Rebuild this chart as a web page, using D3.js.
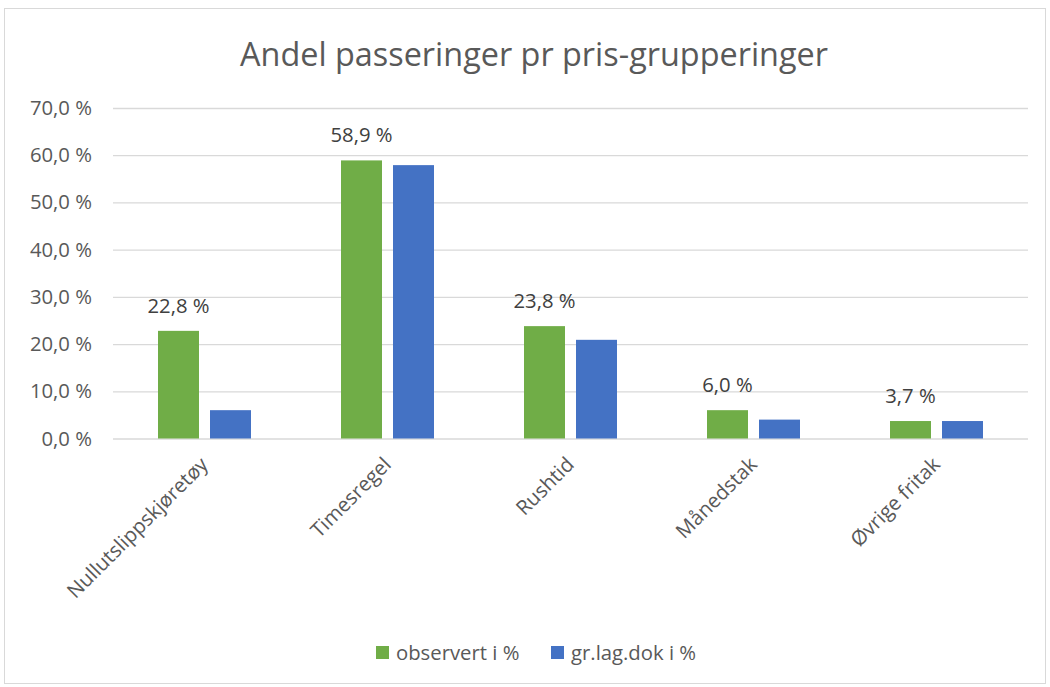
<!DOCTYPE html>
<html><head><meta charset="utf-8">
<script src="https://cdn.jsdelivr.net/npm/d3@7"></script>
<style>body{margin:0;background:#fff;} text{font-family:"Open Sans", sans-serif;}</style>
</head><body>
<svg id="c" width="1050" height="687"></svg>
<script>
const categories = ["Nullutslippskjøretøy","Timesregel","Rushtid","Månedstak","Øvrige fritak"];
const observert = [22.8, 58.9, 23.8, 6.0, 3.7];
const grlag = [6.0, 57.9, 20.9, 4.0, 3.7];
const seriesNames = ["observert i %","gr.lag.dok i %"];
const yTicks = [0,10,20,30,40,50,60,70];
const colors = ["#70ad47","#4472c4"];

const svg = d3.select("#c");
svg.append("rect").attr("x",4.5).attr("y",8.5).attr("width",1041).attr("height",675)
  .attr("fill","#fff").attr("stroke","#d9d9d9");

const L=113, R=1028, T=108, B=438.5;
const x = d3.scaleBand().domain(categories).range([L,R]);
const y = d3.scaleLinear().domain([0,70]).range([B,T]);
const fmt = v => v.toFixed(1).replace(".",",")+" %";
const FS = 20.3;

svg.append("text").attr("x",534).attr("y",66).attr("text-anchor","middle")
  .attr("font-size",32.4).attr("fill","#595959").text("Andel passeringer pr pris-grupperinger");

const yAxis = d3.axisLeft(y).tickValues(yTicks).tickSize(-(R-L)).tickFormat(fmt);
const gy = svg.append("g").attr("transform",`translate(${L},0)`).call(yAxis);
gy.select(".domain").remove();
gy.selectAll(".tick line").attr("stroke","#d9d9d9").attr("stroke-width",1.3);
gy.selectAll(".tick text").attr("x",-21).attr("fill","#595959").attr("font-size",FS).attr("font-family","Open Sans");

const bw = 41, gap = 11;
const data = categories.map((c,i)=>({c, vals:[observert[i], grlag[i]]}));
data.forEach(d=>{
  const cx = x(d.c) + x.bandwidth()/2;
  d.vals.forEach((v,j)=>{
    const x0 = cx - gap/2 - bw + j*(bw+gap);
    svg.append("rect").attr("x",x0).attr("y",y(v)).attr("width",bw).attr("height",B-y(v))
      .attr("fill",colors[j]);
  });
  svg.append("text").attr("x",cx - gap/2 - bw/2).attr("y",y(d.vals[0])-18)
    .attr("text-anchor","middle").attr("font-size",FS).attr("fill","#404040").text(fmt(d.vals[0]));
});

categories.forEach(c=>{
  const cx = x(c)+x.bandwidth()/2;
  svg.append("text").attr("transform",`translate(${cx-6},${455}) rotate(-45)`)
    .attr("text-anchor","end").attr("dy","0.75em").attr("font-size",FS).attr("fill","#595959").text(c);
});

const lg = [{x:376, name:seriesNames[0], col:colors[0]},{x:551, name:seriesNames[1], col:colors[1]}];
lg.forEach(l=>{
  svg.append("rect").attr("x",l.x).attr("y",646).attr("width",13).attr("height",13).attr("fill",l.col);
  svg.append("text").attr("x",l.x+20).attr("y",660).attr("font-size",FS).attr("fill","#595959").text(l.name);
});
</script>
</body></html>
